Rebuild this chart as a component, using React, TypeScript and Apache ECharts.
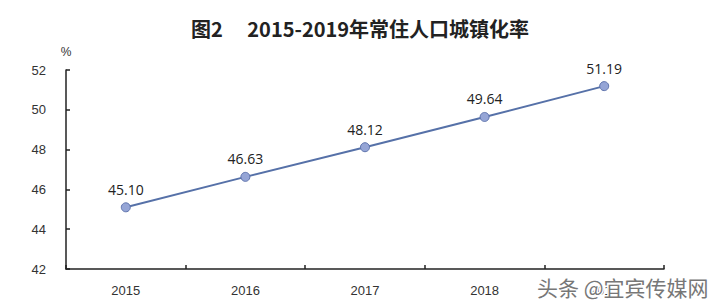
import React, { useEffect, useRef } from "react";
import * as echarts from "echarts";

const titleText = "图2　 2015-2019年常住人口城镇化率";
const years = ["2015", "2016", "2017", "2018", "2019"];
const rates = [45.1, 46.63, 48.12, 49.64, 51.19];
const yMin = 42;
const yMax = 52;
const yInterval = 2;
const unitLabel = "%";
const watermark = "头条 @宜宾传媒网";

export default function App() {
  const ref = useRef<HTMLDivElement>(null);
  useEffect(() => {
    if (!ref.current) return;
    const chart = echarts.init(ref.current, undefined, { renderer: "svg" });
    chart.setOption({
      animation: false,
      backgroundColor: "#ffffff",
      title: {
        text: titleText,
        left: "center",
        top: 13,
        textStyle: {
          fontFamily: "Noto Sans CJK SC",
          fontSize: 20,
          fontWeight: "bold",
          color: "#222",
        },
      },
      grid: { left: 66, right: 56, top: 70, bottom: 34 },
      xAxis: {
        type: "category",
        data: years,
        boundaryGap: true,
        axisLine: { lineStyle: { color: "#222", width: 1.5 } },
        axisTick: { show: true, inside: true, length: 4, lineStyle: { color: "#222", width: 1.5 } },
        axisLabel: {
          color: "#333",
          fontSize: 13,
          fontFamily: "Liberation Sans",
          margin: 15,
        },
      },
      yAxis: {
        type: "value",
        min: yMin,
        max: yMax,
        interval: yInterval,
        name: unitLabel,
        nameLocation: "end",
        nameGap: 12,
        nameTextStyle: { color: "#333", fontSize: 12, fontFamily: "Liberation Sans", align: "center" },
        splitLine: { show: false },
        axisLine: { show: true, lineStyle: { color: "#222", width: 1.5 } },
        axisTick: { show: true, inside: true, length: 4, lineStyle: { color: "#222", width: 1.5 } },
        axisLabel: {
          color: "#333",
          fontSize: 13,
          fontFamily: "Liberation Sans",
          margin: 20,
        },
      },
      series: [
        {
          type: "line",
          data: rates,
          symbol: "circle",
          symbolSize: 9,
          lineStyle: { color: "#5671a8", width: 2 },
          itemStyle: { color: "#95a5d6", borderColor: "#5f74ad", borderWidth: 1 },
          label: {
            show: true,
            position: "top",
            distance: 6,
            formatter: (p: any) => p.value.toFixed(2),
            color: "#222",
            fontSize: 14,
            fontFamily: "Open Sans",
          },
        },
      ],
      graphic: [
        {
          type: "text",
          right: 10,
          top: 275,
          z: 100,
          style: {
            text: watermark,
            fill: "#777",
            stroke: "#ffffff",
            lineWidth: 3,
            fontSize: 21,
            fontFamily: "Noto Sans CJK SC",
          },
        },
      ],
    });
    return () => chart.dispose();
  }, []);
  return <div ref={ref} style={{ width: 720, height: 303, position: "fixed", left: 0, top: 0 }} />;
}
